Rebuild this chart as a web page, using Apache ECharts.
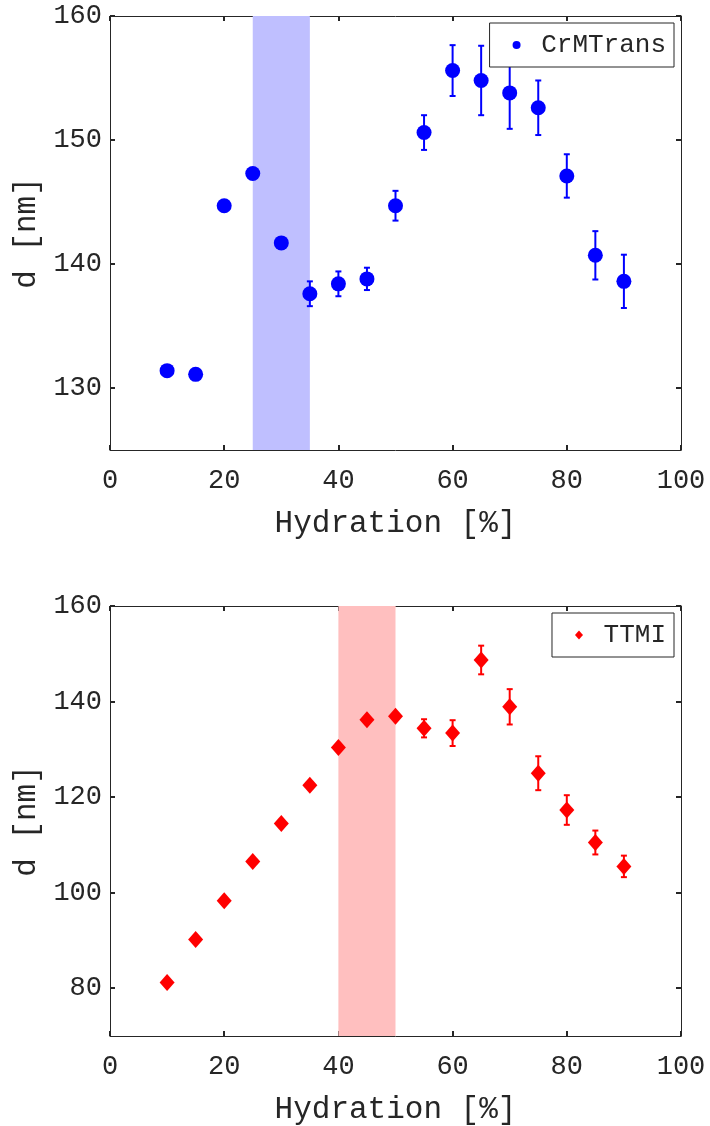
<!DOCTYPE html>
<html>
<head>
<meta charset="utf-8">
<script src="https://cdn.jsdelivr.net/npm/echarts@6/dist/echarts.min.js"></script>
<style>
  html, body { margin: 0; padding: 0; background: #fff; }
  #chart { width: 710px; height: 1126px; }
</style>
</head>
<body>
<div id="chart"></div>
<script>
// hydration levels (%)
var hydration = [10, 15, 20, 25, 30, 35, 40, 45, 50, 55, 60, 65, 70, 75, 80, 85, 90];
// CrMTrans d-spacing (nm) and error
var crmD   = [131.4, 131.1, 144.7, 147.3, 141.7, 137.6, 138.4, 138.8, 144.7, 150.6, 155.6, 154.8, 153.8, 152.6, 147.1, 140.7, 138.6];
var crmErr = [0, 0, 0, 0, 0, 1.0, 1.0, 0.9, 1.2, 1.4, 2.05, 2.8, 2.9, 2.2, 1.75, 1.95, 2.15];
// TTMI d-spacing (nm) and error
var ttmiD   = [81.2, 90.2, 98.3, 106.5, 114.5, 122.5, 130.4, 136.2, 136.9, 134.4, 133.4, 148.7, 138.9, 125.0, 117.3, 110.5, 105.5];
var ttmiErr = [0, 0, 0, 0, 0, 0, 0, 0, 0, 1.9, 2.7, 3.0, 3.7, 3.55, 3.1, 2.5, 2.25];
// shaded transition bands
var crmBand  = [25, 35];
var ttmiBand = [40, 50];
// y tick values
var crmTicks  = [130, 140, 150, 160];
var ttmiTicks = [80, 100, 120, 140, 160];

var FONT = 'Liberation Mono';
var INK = '#262626';

function pts(ys) {
  return hydration.map(function (x, i) { return [x, ys[i]]; });
}
function bars(ys, es) {
  return hydration.map(function (x, i) { return [x, ys[i] - es[i], ys[i] + es[i]]; });
}

function errorBars(color) {
  return function (params, api) {
    var x = api.value(0), lo = api.value(1), hi = api.value(2);
    if (hi - lo <= 0) return null;
    var t = api.coord([x, hi]), b = api.coord([x, lo]);
    var st = { stroke: color, lineWidth: 2 };
    return {
      type: 'group',
      children: [
        { type: 'line', shape: { x1: t[0], y1: t[1], x2: b[0], y2: b[1] }, style: st },
        { type: 'line', shape: { x1: t[0] - 3, y1: t[1], x2: t[0] + 3, y2: t[1] }, style: st },
        { type: 'line', shape: { x1: b[0] - 3, y1: b[1], x2: b[0] + 3, y2: b[1] }, style: st }
      ]
    };
  };
}

function xAx(grid, main) {
  return {
    type: 'value', gridIndex: grid, min: 0, max: 100, interval: 20,
    position: main ? 'bottom' : 'top',
    name: main ? 'Hydration [%]' : '', nameLocation: 'middle', nameGap: 58,
    nameTextStyle: { fontFamily: FONT, fontSize: 31, color: INK },
    axisLine: { show: true, onZero: false, lineStyle: { color: INK, width: 1 } },
    axisTick: { show: true, inside: true, length: 5, lineStyle: { color: INK, width: 2 } },
    axisLabel: { show: main, fontFamily: FONT, fontSize: 27, color: INK, margin: 17 },
    splitLine: { show: false }
  };
}
function yAx(grid, main, min, max, ticks) {
  return {
    type: 'value', gridIndex: grid, min: min, max: max,
    position: main ? 'left' : 'right',
    name: main ? 'd [nm]' : '', nameLocation: 'middle', nameGap: 68, nameRotate: 90,
    nameTextStyle: { fontFamily: FONT, fontSize: 31, color: INK },
    axisLine: { show: true, onZero: false, lineStyle: { color: INK, width: 1 } },
    axisTick: { show: true, inside: true, length: 5, customValues: ticks,
      lineStyle: { color: INK, width: 2 } },
    axisLabel: { show: main, fontFamily: FONT, fontSize: 27, color: INK, margin: 8,
      customValues: ticks },
    splitLine: { show: false }
  };
}

function legendBox(name, top) {
  return {
    data: [name], top: top, right: 36, orient: 'horizontal',
    backgroundColor: '#fff', borderColor: INK, borderWidth: 1,
    padding: [9, 8, 9, 23], itemWidth: 8, itemHeight: 9,
    formatter: ' {name}',
    textStyle: { fontFamily: FONT, fontSize: 26, color: INK },
    selectedMode: false, z: 20
  };
}

var chart = echarts.init(document.getElementById('chart'));
chart.setOption({
  backgroundColor: '#fff',
  animation: false,
  grid: [
    { left: 110, top: 16, width: 571, height: 434 },
    { left: 110, top: 606, width: 571, height: 433 }
  ],
  legend: [legendBox('CrMTrans', 23), legendBox('TTMI', 613)],
  xAxis: [xAx(0, true), xAx(0, false), xAx(1, true), xAx(1, false)],
  yAxis: [yAx(0, true, 125, 160, crmTicks), yAx(0, false, 125, 160, crmTicks),
          yAx(1, true, 70, 160, ttmiTicks), yAx(1, false, 70, 160, ttmiTicks)],
  series: [
    {
      name: 'CrMTrans', type: 'scatter', xAxisIndex: 0, yAxisIndex: 0,
      symbol: 'circle', symbolSize: 15, itemStyle: { color: '#0000ff', opacity: 1 },
      data: pts(crmD), z: 3,
      markArea: { silent: true, itemStyle: { color: '#bfbfff', opacity: 1 },
        data: [[{ xAxis: crmBand[0] }, { xAxis: crmBand[1] }]] }
    },
    {
      type: 'custom', xAxisIndex: 0, yAxisIndex: 0, z: 3,
      renderItem: errorBars('#0000ff'), encode: { x: 0, y: [1, 2] },
      data: bars(crmD, crmErr)
    },
    {
      name: 'TTMI', type: 'scatter', xAxisIndex: 2, yAxisIndex: 2,
      symbol: 'diamond', symbolSize: [15, 17], itemStyle: { color: '#ff0000', opacity: 1 },
      data: pts(ttmiD), z: 3,
      markArea: { silent: true, itemStyle: { color: '#ffbfbf', opacity: 1 },
        data: [[{ xAxis: ttmiBand[0] }, { xAxis: ttmiBand[1] }]] }
    },
    {
      type: 'custom', xAxisIndex: 2, yAxisIndex: 2, z: 3,
      renderItem: errorBars('#ff0000'), encode: { x: 0, y: [1, 2] },
      data: bars(ttmiD, ttmiErr)
    }
  ]
});
</script>
</body>
</html>
